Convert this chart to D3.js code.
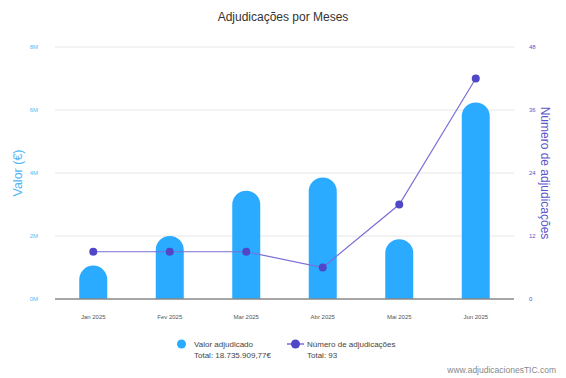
<!DOCTYPE html>
<html>
<head>
<meta charset="utf-8">
<script src="https://cdn.jsdelivr.net/npm/d3@7"></script>
<style>
  body { margin: 0; background: #fff; font-family: "Liberation Sans", Arial, sans-serif; }
  svg { display: block; }
</style>
</head>
<body>
<script>
// data
var months = ['Jan 2025', 'Fev 2025', 'Mar 2025', 'Abr 2025', 'Mai 2025', 'Jun 2025'];
var valores = [1.06e6, 2.0e6, 3.44e6, 3.86e6, 1.9e6, 6.24e6];
var contagens = [9, 9, 9, 6, 18, 42];
var leftTicks = [0, 2e6, 4e6, 6e6, 8e6];
var rightTicks = [0, 12, 24, 36, 48];
var totalValor = 'Total: 18.735.909,77€';
var totalNum = 'Total: 93';

var
  width = 566,
  height = 378,
  margin = { top: 47, right: 52, bottom: 79, left: 55 },
  barColor = '#2aabff',
  lineColor = '#7a6fd6',
  dotColor = '#4f46c8',
  svg = d3.select('body').append('svg')
    .attr('width', width)
    .attr('height', height)
    .attr('font-family', '"Liberation Sans", Arial, sans-serif');

var x = d3.scaleBand()
  .domain(months)
  .range([margin.left, width - margin.right])
  .padding(0);

var yL = d3.scaleLinear().domain([0, 8e6]).range([height - margin.bottom, margin.top]);
var yR = d3.scaleLinear().domain([0, 48]).range([height - margin.bottom, margin.top]);

// title
svg.append('text')
  .attr('x', width / 2)
  .attr('y', 21)
  .attr('text-anchor', 'middle')
  .attr('font-size', 12)
  .attr('fill', '#333')
  .text('Adjudicações por Meses');

// grid
svg.append('g')
  .selectAll('line')
  .data(leftTicks.slice(1))
  .enter()
  .append('line')
  .attr('x1', margin.left)
  .attr('x2', width - margin.right)
  .attr('y1', function (d) { return yL(d); })
  .attr('y2', function (d) { return yL(d); })
  .attr('stroke', '#e6e6e6')
  .attr('stroke-width', 1);

// left axis
var axL = svg.append('g')
  .attr('transform', 'translate(' + (margin.left - 14) + ',0)')
  .call(d3.axisLeft(yL).tickValues(leftTicks).tickSize(0).tickFormat(function (d) { return (d / 1e6) + 'M'; }));
axL.select('.domain').remove();
axL.selectAll('text').attr('fill', '#5ab8f5').attr('font-size', 6).attr('font-family', '"Liberation Sans", Arial, sans-serif');

// right axis
var axR = svg.append('g')
  .attr('transform', 'translate(' + (width - margin.right + 12) + ',0)')
  .call(d3.axisRight(yR).tickValues(rightTicks).tickSize(0));
axR.select('.domain').remove();
axR.selectAll('text').attr('fill', '#5c55c9').attr('font-size', 6).attr('font-family', '"Liberation Sans", Arial, sans-serif');

// axis titles
svg.append('text')
  .attr('transform', 'translate(22,' + ((margin.top + height - margin.bottom) / 2) + ') rotate(-90)')
  .attr('text-anchor', 'middle')
  .attr('font-size', 12.5)
  .attr('fill', '#4fb6f6')
  .text('Valor (€)');

svg.append('text')
  .attr('transform', 'translate(541,' + ((margin.top + height - margin.bottom) / 2) + ') rotate(90)')
  .attr('text-anchor', 'middle')
  .attr('font-size', 12)
  .attr('fill', '#5c55c9')
  .text('Número de adjudicações');

// bars with rounded tops
var bw = 28, r = bw / 2;
svg.append('g')
  .selectAll('path')
  .data(valores)
  .enter()
  .append('path')
  .attr('fill', barColor)
  .attr('d', function (d, i) {
    var cx = x(months[i]) + x.bandwidth() / 2,
      x0 = cx - r, x1 = cx + r,
      top = yL(d), base = yL(0),
      rr = Math.min(r, base - top);
    return 'M' + x0 + ',' + base + 'L' + x0 + ',' + (top + rr) +
      'A' + r + ',' + rr + ' 0 0 1 ' + x1 + ',' + (top + rr) +
      'L' + x1 + ',' + base + 'Z';
  });

// baseline
svg.append('line')
  .attr('x1', margin.left)
  .attr('x2', width - margin.right)
  .attr('y1', yL(0))
  .attr('y2', yL(0))
  .attr('stroke', '#888')
  .attr('stroke-width', 1.5);

// line series
var line = d3.line()
  .x(function (d, i) { return x(months[i]) + x.bandwidth() / 2; })
  .y(function (d) { return yR(d); });

svg.append('path')
  .datum(contagens)
  .attr('d', line)
  .attr('fill', 'none')
  .attr('stroke', lineColor)
  .attr('stroke-width', 1.2);

svg.append('g')
  .selectAll('circle')
  .data(contagens)
  .enter()
  .append('circle')
  .attr('cx', function (d, i) { return x(months[i]) + x.bandwidth() / 2; })
  .attr('cy', function (d) { return yR(d); })
  .attr('r', 4)
  .attr('fill', dotColor);

// x labels
svg.append('g')
  .selectAll('text')
  .data(months)
  .enter()
  .append('text')
  .attr('x', function (d) { return x(d) + x.bandwidth() / 2; })
  .attr('y', 319)
  .attr('text-anchor', 'middle')
  .attr('font-size', 6)
  .attr('fill', '#555')
  .text(function (d) { return d; });

// legend
var lg = svg.append('g').attr('font-size', 8).attr('fill', '#444');
lg.append('circle').attr('cx', 181.5).attr('cy', 344).attr('r', 4.5).attr('fill', barColor);
lg.append('text').attr('x', 194).attr('y', 347).text('Valor adjudicado');
lg.append('text').attr('x', 194).attr('y', 358).text(totalValor);

lg.append('line').attr('x1', 287).attr('x2', 304).attr('y1', 344).attr('y2', 344)
  .attr('stroke', lineColor).attr('stroke-width', 1.5);
lg.append('circle').attr('cx', 295.5).attr('cy', 344).attr('r', 4.5).attr('fill', dotColor);
lg.append('text').attr('x', 307).attr('y', 347).text('Número de adjudicações');
lg.append('text').attr('x', 307).attr('y', 358).text(totalNum);

// watermark
svg.append('text')
  .attr('x', 556)
  .attr('y', 373)
  .attr('text-anchor', 'end')
  .attr('font-size', 8.5)
  .attr('fill', '#888')
  .text('www.adjudicacionesTIC.com');
</script>
</body>
</html>
